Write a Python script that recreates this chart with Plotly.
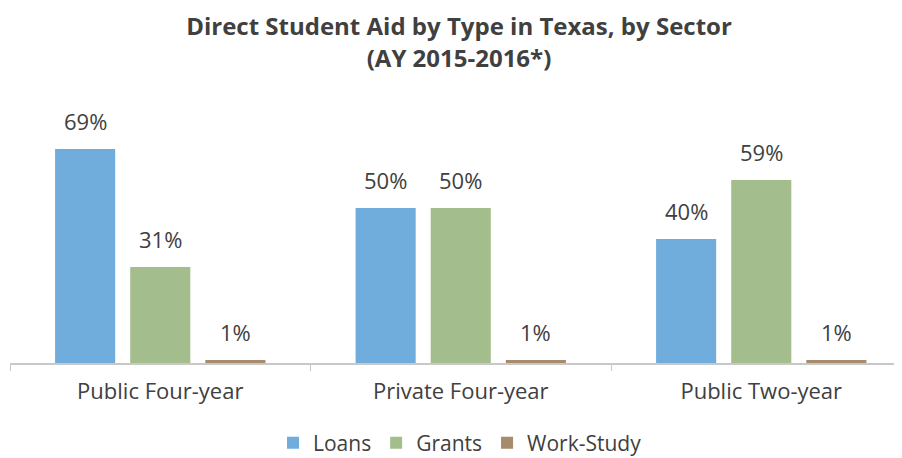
import plotly.graph_objects as go

categories = ["Public Four-year", "Private Four-year", "Public Two-year"]
loans = [69, 50, 40]
grants = [31, 50, 59]
work_study = [1, 1, 1]
series_names = ["Loans", "Grants", "Work-Study"]
colors = ["#70ADDC", "#A4BD8C", "#A68B6D"]

FONT = "Open Sans"
TXT = "#404040"

fig = go.Figure()
all_series = [loans, grants, work_study]
for name, vals, col in zip(series_names, all_series, colors):
    fig.add_trace(go.Bar(name=name, x=categories, y=vals, marker_color=col,
                         marker_line_width=0))

# value labels above bars
n = len(all_series)
bargap = 0.25
bargroupgap = 0.2
slot = (1 - bargap) / n
for si, vals in enumerate(all_series):
    off = (si - (n - 1) / 2) * slot
    for ci, v in enumerate(vals):
        fig.add_annotation(x=ci + off, y=v, xref="x", yref="y",
                           text=f"{v}%", showarrow=False, yanchor="bottom",
                           yshift=11, font=dict(family=FONT, size=22, color=TXT))

fig.update_layout(
    width=902, height=458,
    barmode="group", bargap=bargap, bargroupgap=bargroupgap,
    paper_bgcolor="white", plot_bgcolor="white",
    margin=dict(l=2, r=0, t=107, b=103),
    title=dict(text="<b>Direct Student Aid by Type in Texas, by Sector<br>(AY 2015-2016*)</b>",
               x=0.5, xanchor="center", yref="container", y=0.94, yanchor="middle",
               font=dict(family=FONT, size=24, color=TXT)),
    showlegend=True,
    legend=dict(orientation="h", x=0.5, xanchor="center", y=-0.24, yanchor="top",
                font=dict(family=FONT, size=21, color=TXT), itemwidth=30,
                traceorder="normal"),
    xaxis=dict(range=[-0.5, 2.495], showline=True, linecolor="#C8C8C8", linewidth=2,
               ticks="outside", tickson="boundaries", ticklen=6, tickcolor="#C8C8C8",
               ticklabelstandoff=8,
               tickfont=dict(family=FONT, size=22, color=TXT), showgrid=False),
    yaxis=dict(range=[0, 80], visible=False, showgrid=False),
)

fig.write_html("out.html")
